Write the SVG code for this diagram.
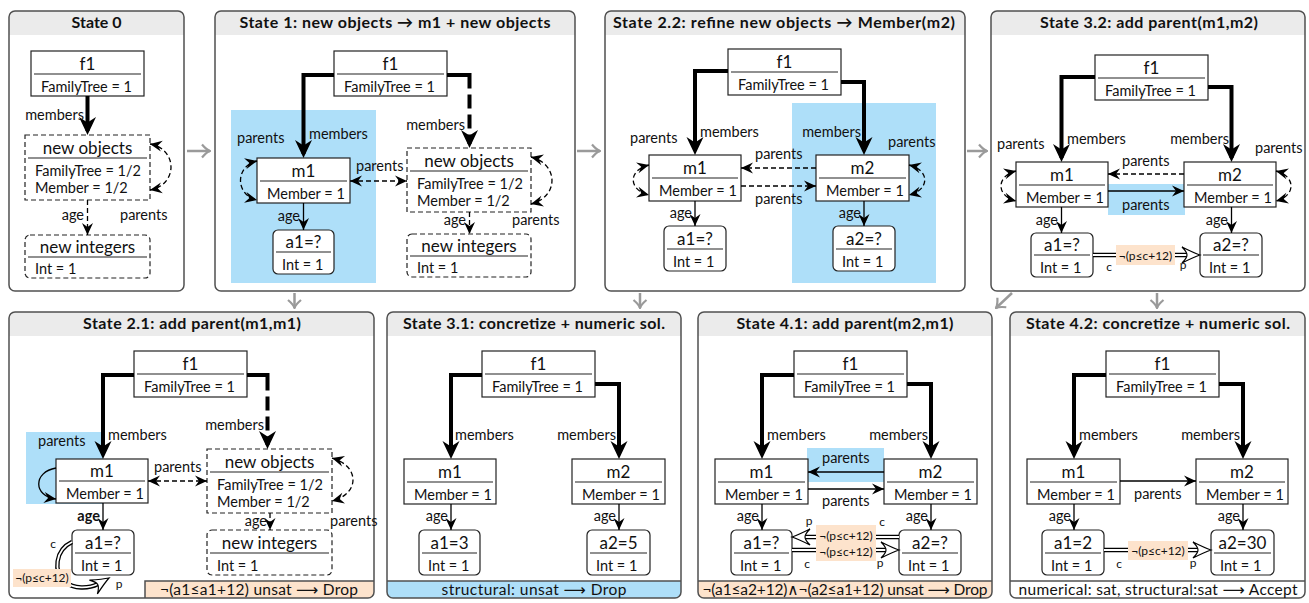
<svg xmlns="http://www.w3.org/2000/svg" xmlns:xlink="http://www.w3.org/1999/xlink" width="1309" height="603" viewBox="0 0 1309 603">
<defs>
<style>
text{font-family:Lato,'DejaVu Sans',sans-serif;fill:#111}
.pbg{fill:#fff}
.pbd{fill:none;stroke:#505050;stroke-width:1.5}
.tbar{fill:#ebebeb}
.title{font-weight:bold;font-size:16px;text-anchor:middle}
.nd{fill:#fff;stroke:#222;stroke-width:1.2}
.dn{fill:#fff;stroke:#222;stroke-width:1.2;stroke-dasharray:5 3}
.sep{stroke:#222;stroke-width:1.2}
.nm{font-size:17px;text-anchor:middle}
.at{font-size:14.5px}
.lb{font-size:14.5px}
.sm{font-size:12px;text-anchor:middle}
.end{text-anchor:end}
.thk{fill:none;stroke:#000;stroke-width:4;marker-end:url(#bh)}
.thkd{stroke-dasharray:36 6 14 6 14 6 14 6}
.ln{fill:none;stroke:#000;stroke-width:1.3}
.arr{marker-end:url(#ah)}
.arr2{marker-start:url(#ah);marker-end:url(#ah)}
.dsh{stroke-dasharray:5 3}
.dl1{fill:none;stroke:#000;stroke-width:4.4}
.dl2{fill:none;stroke:#fff;stroke-width:1.8}
.blue{fill:#aedff9}
.org{fill:#fde3cc}
.garr{fill:none;stroke:#9a9a9a;stroke-width:2.5;marker-end:url(#gh)}
.bar{font-size:15.5px;text-anchor:middle}
.barln{fill:none;stroke:#505050;stroke-width:1.5}
</style>
<marker id="bh" viewBox="-19 -9 20 18" refX="-4" refY="0" markerWidth="20" markerHeight="18" markerUnits="userSpaceOnUse" orient="auto"><path d="M0,0 L-18,-8.5 L-12.5,0 L-18,8.5 Z" fill="#000"/></marker>
<marker id="ah" viewBox="-13 -6 14 12" refX="0" refY="0" markerWidth="14" markerHeight="12" markerUnits="userSpaceOnUse" orient="auto-start-reverse"><path d="M0,0 L-12,-5.5 L-8,0 L-12,5.5 Z" fill="#000"/></marker>
<marker id="gh" viewBox="-10 -8 11 16" refX="0" refY="0" markerWidth="11" markerHeight="16" markerUnits="userSpaceOnUse" orient="auto"><path d="M-8,-6.5 Q-3.5,-1.2 0,0 Q-3.5,1.2 -8,6.5" fill="none" stroke="#9a9a9a" stroke-width="2.2"/></marker>
<path id="dh" d="M0,0 C-6,-2 -12,-5 -18,-8 C-14,-4 -13,-2 -13,0 C-13,2 -14,4 -18,8 C-12,5 -6,2 0,0 Z" fill="#fff" stroke="#000" stroke-width="1.2"/>
</defs>

<!-- ================= State 0 ================= -->
<g id="state0">
<rect class="pbg" x="9" y="11" width="175" height="280" rx="6"/>
<path class="tbar" d="M9,35 V17 Q9,11 15,11 H178 Q184,11 184,17 V35 Z"/>
<rect class="pbd" x="9" y="11" width="175" height="280" rx="6"/>
<text class="title" x="96.5" y="28" textLength="50" lengthAdjust="spacing">State 0</text>
<g id="s0-f1"><rect class="nd" x="31" y="51" width="113" height="45"/><line class="sep" x1="34" y1="74" x2="141" y2="74"/><text class="nm" x="87.5" y="70">f1</text><text class="at" x="41" y="92">FamilyTree = 1</text></g>
<g id="s0-newobjects"><rect class="dn" x="25" y="135" width="125" height="65"/><line class="sep" x1="28" y1="158" x2="147" y2="158"/><text class="nm" x="87.5" y="154">new objects</text><text class="at" x="35" y="176">FamilyTree = 1/2</text><text class="at" x="35" y="193">Member = 1/2</text></g>
<g id="s0-newintegers"><rect class="dn" x="25" y="235" width="125" height="43" rx="5"/><line class="sep" x1="28" y1="257" x2="147" y2="257"/><text class="nm" x="87.5" y="253">new integers</text><text class="at" x="35" y="274">Int = 1</text></g>
<g id="s0-connectors">
<path class="thk" d="M87.5,96 V131"/>
<path class="ln dsh arr" d="M87.5,200 V235"/>
<path class="ln dsh arr2" d="M150,144 C178,149 178,185 150,190"/>
<text class="lb end" x="84" y="120">members</text>
<text class="lb end" x="84" y="220">age</text>
<text class="lb" x="120" y="220">parents</text>
</g>
</g>

<!-- ================= State 1 ================= -->
<g id="state1">
<rect class="pbg" x="215" y="11" width="360" height="280" rx="6"/>
<path class="tbar" d="M215,35 V17 Q215,11 221,11 H569 Q575,11 575,17 V35 Z"/>
<rect class="pbd" x="215" y="11" width="360" height="280" rx="6"/>
<text class="title" x="395" y="28" textLength="311" lengthAdjust="spacing">State 1: new objects → m1 + new objects</text>
<rect class="blue" x="231" y="110" width="145" height="173"/>
<g id="s1-f1"><rect class="nd" x="334" y="51" width="113" height="45"/><line class="sep" x1="337" y1="74" x2="444" y2="74"/><text class="nm" x="390.5" y="70">f1</text><text class="at" x="344" y="92">FamilyTree = 1</text></g>
<g id="s1-m1"><rect class="nd" x="257" y="158" width="93" height="45"/><line class="sep" x1="260" y1="181" x2="347" y2="181"/><text class="nm" x="303.5" y="177">m1</text><text class="at" x="267" y="199">Member = 1</text></g>
<g id="s1-a1"><rect class="nd" x="273" y="230" width="61" height="44" rx="5"/><line class="sep" x1="276" y1="252" x2="331" y2="252"/><text class="nm" x="303.5" y="248">a1=?</text><text class="at" x="282" y="270">Int = 1</text></g>
<g id="s1-newobjects"><rect class="dn" x="407" y="148" width="124" height="64"/><line class="sep" x1="410" y1="171" x2="528" y2="171"/><text class="nm" x="469" y="167">new objects</text><text class="at" x="417" y="189">FamilyTree = 1/2</text><text class="at" x="417" y="206">Member = 1/2</text></g>
<g id="s1-newintegers"><rect class="dn" x="407" y="234" width="124" height="43" rx="5"/><line class="sep" x1="410" y1="256" x2="528" y2="256"/><text class="nm" x="469" y="252">new integers</text><text class="at" x="417" y="273">Int = 1</text></g>
<g id="s1-connectors">
<path class="thk" d="M334,75 H303.5 V154"/>
<path class="thk thkd" d="M447,75 H469.5 V144"/>
<path class="ln dsh arr2" d="M257,161 C235,166 235,195 257,200"/>
<path class="ln dsh arr2" d="M350,181 H407"/>
<path class="ln dsh arr2" d="M531,157 C559,164 559,197 531,204"/>
<path class="ln arr" d="M303.5,203 V230"/>
<path class="ln dsh arr" d="M469.5,212 V234"/>
<text class="lb" x="309" y="139">members</text>
<text class="lb end" x="465" y="130">members</text>
<text class="lb" x="237" y="143">parents</text>
<text class="lb" x="356" y="171">parents</text>
<text class="lb" x="512" y="225">parents</text>
<text class="lb end" x="300" y="221">age</text>
<text class="lb end" x="466" y="225">age</text>
</g>
</g>

<!-- ================= State 2.2 ================= -->
<g id="state22">
<rect class="pbg" x="605" y="11" width="360" height="280" rx="6"/>
<path class="tbar" d="M605,35 V17 Q605,11 611,11 H959 Q965,11 965,17 V35 Z"/>
<rect class="pbd" x="605" y="11" width="360" height="280" rx="6"/>
<text class="title" x="784" y="28" textLength="342" lengthAdjust="spacing">State 2.2: refine new objects → Member(m2)</text>
<rect class="blue" x="792" y="103" width="144" height="180"/>
<g id="s22-f1"><rect class="nd" x="728" y="49" width="113" height="46"/><line class="sep" x1="731" y1="72" x2="838" y2="72"/><text class="nm" x="784.5" y="68">f1</text><text class="at" x="738" y="90">FamilyTree = 1</text></g>
<g id="s22-m1"><rect class="nd" x="649" y="155" width="92" height="46"/><line class="sep" x1="652" y1="178" x2="738" y2="178"/><text class="nm" x="695" y="174">m1</text><text class="at" x="659" y="196">Member = 1</text></g>
<g id="s22-m2"><rect class="nd" x="816" y="155" width="93" height="46"/><line class="sep" x1="819" y1="178" x2="906" y2="178"/><text class="nm" x="862.5" y="174">m2</text><text class="at" x="826" y="196">Member = 1</text></g>
<g id="s22-a1"><rect class="nd" x="664" y="226" width="62" height="45" rx="5"/><line class="sep" x1="667" y1="249" x2="723" y2="249"/><text class="nm" x="695" y="245">a1=?</text><text class="at" x="673" y="267">Int = 1</text></g>
<g id="s22-a2"><rect class="nd" x="833" y="226" width="62" height="45" rx="5"/><line class="sep" x1="836" y1="249" x2="892" y2="249"/><text class="nm" x="864" y="245">a2=?</text><text class="at" x="842" y="267">Int = 1</text></g>
<g id="s22-connectors">
<path class="thk" d="M728,71 H695 V151"/>
<path class="thk" d="M841,82 H864 V151"/>
<path class="ln dsh arr" d="M816,168 H741"/>
<path class="ln dsh arr" d="M741,186 H816"/>
<path class="ln dsh arr2" d="M649,165 C628,170 628,190 649,195"/>
<path class="ln dsh arr2" d="M909,165 C930,170 930,190 909,195"/>
<path class="ln arr" d="M695,201 V226"/>
<path class="ln arr" d="M864,201 V226"/>
<text class="lb" x="700" y="137">members</text>
<text class="lb end" x="861" y="137">members</text>
<text class="lb" x="755" y="159">parents</text>
<text class="lb" x="755" y="204">parents</text>
<text class="lb" x="630" y="143">parents</text>
<text class="lb" x="888" y="147">parents</text>
<text class="lb end" x="692" y="218">age</text>
<text class="lb end" x="861" y="218">age</text>
</g>
</g>

<!-- ================= State 3.2 ================= -->
<g id="state32">
<rect class="pbg" x="991" y="11" width="314" height="280" rx="6"/>
<path class="tbar" d="M991,35 V17 Q991,11 997,11 H1299 Q1305,11 1305,17 V35 Z"/>
<rect class="pbd" x="991" y="11" width="314" height="280" rx="6"/>
<text class="title" x="1149" y="28" textLength="218" lengthAdjust="spacing">State 3.2: add parent(m1,m2)</text>
<rect class="blue" x="1108" y="184" width="77" height="31"/>
<g id="s32-f1"><rect class="nd" x="1095" y="55" width="113" height="45"/><line class="sep" x1="1098" y1="78" x2="1205" y2="78"/><text class="nm" x="1151.5" y="74">f1</text><text class="at" x="1105" y="96">FamilyTree = 1</text></g>
<g id="s32-m1"><rect class="nd" x="1016" y="162" width="92" height="45"/><line class="sep" x1="1019" y1="185" x2="1105" y2="185"/><text class="nm" x="1062" y="181">m1</text><text class="at" x="1026" y="203">Member = 1</text></g>
<g id="s32-m2"><rect class="nd" x="1184" y="162" width="92" height="45"/><line class="sep" x1="1187" y1="185" x2="1273" y2="185"/><text class="nm" x="1230" y="181">m2</text><text class="at" x="1194" y="203">Member = 1</text></g>
<g id="s32-a1"><rect class="nd" x="1031" y="233" width="62" height="44" rx="5"/><line class="sep" x1="1034" y1="255" x2="1090" y2="255"/><text class="nm" x="1062" y="251">a1=?</text><text class="at" x="1040" y="273">Int = 1</text></g>
<g id="s32-a2"><rect class="nd" x="1200" y="233" width="62" height="44" rx="5"/><line class="sep" x1="1203" y1="255" x2="1259" y2="255"/><text class="nm" x="1231" y="251">a2=?</text><text class="at" x="1209" y="273">Int = 1</text></g>
<g id="s32-connectors">
<path class="thk" d="M1095,77 H1061.5 V158"/>
<path class="thk" d="M1208,87 H1231.5 V158"/>
<path class="ln dsh arr" d="M1184,174 H1108"/>
<path class="ln arr" d="M1108,191 H1184"/>
<path class="ln dsh arr2" d="M1016,171 C996,176 996,196 1016,201"/>
<path class="ln dsh arr2" d="M1276,171 C1296,176 1296,196 1276,201"/>
<path class="ln arr" d="M1061.5,207 V233"/>
<path class="ln arr" d="M1231.5,207 V233"/>
<path class="dl1" d="M1093,255 H1188"/><path class="dl2" d="M1093,255 H1189"/>
<use xlink:href="#dh" transform="translate(1200,255)"/>
<rect class="org" x="1116" y="245" width="59" height="20"/>
<text class="sm" x="1145.5" y="259.5">¬(p≤c+12)</text>
<text class="sm" x="1109" y="271">c</text>
<text class="sm" x="1183" y="269">p</text>
<text class="lb" x="1067" y="144">members</text>
<text class="lb end" x="1229" y="144">members</text>
<text class="lb" x="1122" y="166">parents</text>
<text class="lb" x="1122" y="210">parents</text>
<text class="lb" x="997" y="149">parents</text>
<text class="lb" x="1255" y="153">parents</text>
<text class="lb end" x="1058" y="225">age</text>
<text class="lb end" x="1228" y="225">age</text>
</g>
</g>

<!-- ================= State 2.1 ================= -->
<g id="state21">
<rect class="pbg" x="9" y="312" width="365" height="286" rx="6"/>
<path class="tbar" d="M9,336 V318 Q9,312 15,312 H368 Q374,312 374,318 V336 Z"/>
<path class="org" d="M145,581 H374 V592 Q374,598 368,598 H145 Z"/>
<path class="barln" d="M145,598 V581 H374"/>
<rect class="pbd" x="9" y="312" width="365" height="286" rx="6"/>
<text class="title" x="192" y="329" textLength="218" lengthAdjust="spacing">State 2.1: add parent(m1,m1)</text>
<text class="bar" x="259" y="595" textLength="198" lengthAdjust="spacing">¬(a1≤a1+12) unsat ⟶ Drop</text>
<rect class="blue" x="26" y="432" width="77" height="72"/>
<g id="s21-f1"><rect class="nd" x="134" y="351" width="113" height="46"/><line class="sep" x1="137" y1="374" x2="244" y2="374"/><text class="nm" x="190.5" y="370">f1</text><text class="at" x="144" y="392">FamilyTree = 1</text></g>
<g id="s21-m1"><rect class="nd" x="56" y="459" width="92" height="44"/><line class="sep" x1="59" y1="481" x2="145" y2="481"/><text class="nm" x="102" y="477">m1</text><text class="at" x="66" y="499">Member = 1</text></g>
<g id="s21-a1"><rect class="nd" x="72" y="530" width="62" height="45" rx="5"/><line class="sep" x1="75" y1="553" x2="131" y2="553"/><text class="nm" x="103" y="549">a1=?</text><text class="at" x="81" y="571">Int = 1</text></g>
<g id="s21-newobjects"><rect class="dn" x="207" y="449" width="125" height="64"/><line class="sep" x1="210" y1="472" x2="329" y2="472"/><text class="nm" x="269.5" y="468">new objects</text><text class="at" x="217" y="490">FamilyTree = 1/2</text><text class="at" x="217" y="507">Member = 1/2</text></g>
<g id="s21-newintegers"><rect class="dn" x="207" y="530" width="125" height="45" rx="5"/><line class="sep" x1="210" y1="553" x2="329" y2="553"/><text class="nm" x="269.5" y="549">new integers</text><text class="at" x="217" y="571">Int = 1</text></g>
<g id="s21-connectors">
<path class="thk" d="M134,375 H103 V455"/>
<path class="thk thkd" d="M247,375 H267.5 V445"/>
<path class="ln arr" d="M56,468 C33,472 33,496 56,499"/>
<path class="ln dsh arr2" d="M148,481 H207"/>
<path class="ln dsh arr2" d="M332,458 C360,466 360,494 332,501"/>
<path class="ln arr" d="M103,503 V530"/>
<path class="ln dsh arr" d="M270,513 V530"/>
<path class="dl1" d="M72,542 C55,550 53,572 65,582 C74,589 88,589 98,584"/>
<path class="dl2" d="M72,542 C55,550 53,572 65,582 C74,589 88,589 99,583.5"/>
<use xlink:href="#dh" transform="translate(109,578) rotate(-30)"/>
<rect class="org" x="13" y="569" width="58" height="18"/>
<text class="sm" x="42" y="582">¬(p≤c+12)</text>
<text class="sm" x="53" y="548">c</text>
<text class="sm" x="119" y="588">p</text>
<text class="lb" x="108" y="440">members</text>
<text class="lb end" x="264" y="430">members</text>
<text class="lb" x="38" y="446">parents</text>
<text class="lb" x="154" y="472">parents</text>
<text class="lb" x="330" y="526">parents</text>
<text class="lb end" x="100" y="521" font-weight="bold">age</text>
<text class="lb end" x="267" y="526">age</text>
</g>
</g>

<!-- ================= State 3.1 ================= -->
<g id="state31">
<rect class="pbg" x="387" y="312" width="294" height="286" rx="6"/>
<path class="tbar" d="M387,336 V318 Q387,312 393,312 H675 Q681,312 681,318 V336 Z"/>
<path class="blue" d="M387,581 H681 V592 Q681,598 675,598 H393 Q387,598 387,592 Z"/>
<path class="barln" d="M387,581 H681"/>
<rect class="pbd" x="387" y="312" width="294" height="286" rx="6"/>
<text class="title" x="534" y="329" textLength="262" lengthAdjust="spacing">State 3.1: concretize + numeric sol.</text>
<text class="bar" x="534" y="595" textLength="185" lengthAdjust="spacing">structural: unsat ⟶ Drop</text>
<g id="s31-f1"><rect class="nd" x="482" y="351" width="113" height="46"/><line class="sep" x1="485" y1="374" x2="592" y2="374"/><text class="nm" x="538.5" y="370">f1</text><text class="at" x="492" y="392">FamilyTree = 1</text></g>
<g id="s31-m1"><rect class="nd" x="404" y="459" width="92" height="45"/><line class="sep" x1="407" y1="482" x2="493" y2="482"/><text class="nm" x="450" y="478">m1</text><text class="at" x="414" y="500">Member = 1</text></g>
<g id="s31-m2"><rect class="nd" x="572" y="459" width="93" height="45"/><line class="sep" x1="575" y1="482" x2="662" y2="482"/><text class="nm" x="618.5" y="478">m2</text><text class="at" x="582" y="500">Member = 1</text></g>
<g id="s31-a1"><rect class="nd" x="419" y="530" width="61" height="45" rx="5"/><line class="sep" x1="422" y1="553" x2="477" y2="553"/><text class="nm" x="449.5" y="549">a1=3</text><text class="at" x="428" y="571">Int = 1</text></g>
<g id="s31-a2"><rect class="nd" x="587" y="530" width="63" height="45" rx="5"/><line class="sep" x1="590" y1="553" x2="647" y2="553"/><text class="nm" x="618.5" y="549">a2=5</text><text class="at" x="596" y="571">Int = 1</text></g>
<g id="s31-connectors">
<path class="thk" d="M482,375 H451 V455"/>
<path class="thk" d="M595,384 H619 V455"/>
<path class="ln arr" d="M451,504 V530"/>
<path class="ln arr" d="M619,504 V530"/>
<text class="lb" x="455" y="440">members</text>
<text class="lb end" x="616" y="440">members</text>
<text class="lb end" x="448" y="521">age</text>
<text class="lb end" x="616" y="521">age</text>
</g>
</g>

<!-- ================= State 4.1 ================= -->
<g id="state41">
<rect class="pbg" x="698" y="312" width="294" height="286" rx="6"/>
<path class="tbar" d="M698,336 V318 Q698,312 704,312 H986 Q992,312 992,318 V336 Z"/>
<path class="org" d="M698,581 H992 V592 Q992,598 986,598 H704 Q698,598 698,592 Z"/>
<path class="barln" d="M698,581 H992"/>
<rect class="pbd" x="698" y="312" width="294" height="286" rx="6"/>
<text class="title" x="845" y="329" textLength="217" lengthAdjust="spacing">State 4.1: add parent(m2,m1)</text>
<text class="bar" x="845" y="595" textLength="285" lengthAdjust="spacing">¬(a1≤a2+12)∧¬(a2≤a1+12) unsat ⟶ Drop</text>
<rect class="blue" x="807" y="448" width="77" height="34"/>
<g id="s41-f1"><rect class="nd" x="794" y="351" width="113" height="46"/><line class="sep" x1="797" y1="374" x2="904" y2="374"/><text class="nm" x="850.5" y="370">f1</text><text class="at" x="804" y="392">FamilyTree = 1</text></g>
<g id="s41-m1"><rect class="nd" x="715" y="459" width="93" height="45"/><line class="sep" x1="718" y1="482" x2="805" y2="482"/><text class="nm" x="761.5" y="478">m1</text><text class="at" x="725" y="500">Member = 1</text></g>
<g id="s41-m2"><rect class="nd" x="884" y="459" width="93" height="45"/><line class="sep" x1="887" y1="482" x2="974" y2="482"/><text class="nm" x="930.5" y="478">m2</text><text class="at" x="894" y="500">Member = 1</text></g>
<g id="s41-a1"><rect class="nd" x="731" y="530" width="61" height="45" rx="5"/><line class="sep" x1="734" y1="553" x2="789" y2="553"/><text class="nm" x="761.5" y="549">a1=?</text><text class="at" x="740" y="571">Int = 1</text></g>
<g id="s41-a2"><rect class="nd" x="899" y="530" width="62" height="45" rx="5"/><line class="sep" x1="902" y1="553" x2="958" y2="553"/><text class="nm" x="930" y="549">a2=?</text><text class="at" x="908" y="571">Int = 1</text></g>
<g id="s41-connectors">
<path class="thk" d="M794,375 H762 V455"/>
<path class="thk" d="M907,384 H931 V455"/>
<path class="ln arr" d="M884,472 H808"/>
<path class="ln arr" d="M808,489 H884"/>
<path class="ln arr" d="M762,504 V530"/>
<path class="ln arr" d="M931,504 V530"/>
<path class="dl1" d="M899,537 H805"/><path class="dl2" d="M899,537 H804"/>
<use xlink:href="#dh" transform="translate(792,537) rotate(180)"/>
<path class="dl1" d="M792,550 H886"/><path class="dl2" d="M792,550 H887"/>
<use xlink:href="#dh" transform="translate(899,550)"/>
<rect class="org" x="816" y="525" width="60" height="36"/>
<text class="sm" x="846" y="540">¬(p≤c+12)</text>
<text class="sm" x="846" y="556">¬(p≤c+12)</text>
<text class="sm" x="809" y="525">p</text>
<text class="sm" x="882" y="526">c</text>
<text class="sm" x="807" y="568">c</text>
<text class="sm" x="880" y="567">p</text>
<text class="lb" x="767" y="440">members</text>
<text class="lb end" x="928" y="440">members</text>
<text class="lb" x="822" y="463">parents</text>
<text class="lb" x="822" y="506">parents</text>
<text class="lb end" x="759" y="521">age</text>
<text class="lb end" x="928" y="521">age</text>
</g>
</g>

<!-- ================= State 4.2 ================= -->
<g id="state42">
<rect class="pbg" x="1010" y="312" width="295" height="286" rx="6"/>
<path class="tbar" d="M1010,336 V318 Q1010,312 1016,312 H1299 Q1305,312 1305,318 V336 Z"/>
<path class="barln" d="M1010,581 H1305"/>
<rect class="pbd" x="1010" y="312" width="295" height="286" rx="6"/>
<text class="title" x="1158" y="329" textLength="264" lengthAdjust="spacing">State 4.2: concretize + numeric sol.</text>
<text class="bar" x="1158" y="595" textLength="279" lengthAdjust="spacing">numerical: sat, structural:sat ⟶ Accept</text>
<g id="s42-f1"><rect class="nd" x="1106" y="351" width="113" height="46"/><line class="sep" x1="1109" y1="374" x2="1216" y2="374"/><text class="nm" x="1162.5" y="370">f1</text><text class="at" x="1116" y="392">FamilyTree = 1</text></g>
<g id="s42-m1"><rect class="nd" x="1027" y="459" width="93" height="45"/><line class="sep" x1="1030" y1="482" x2="1117" y2="482"/><text class="nm" x="1073.5" y="478">m1</text><text class="at" x="1037" y="500">Member = 1</text></g>
<g id="s42-m2"><rect class="nd" x="1196" y="459" width="92" height="45"/><line class="sep" x1="1199" y1="482" x2="1285" y2="482"/><text class="nm" x="1242" y="478">m2</text><text class="at" x="1206" y="500">Member = 1</text></g>
<g id="s42-a1"><rect class="nd" x="1042" y="530" width="62" height="45" rx="5"/><line class="sep" x1="1045" y1="553" x2="1101" y2="553"/><text class="nm" x="1073" y="549">a1=2</text><text class="at" x="1051" y="571">Int = 1</text></g>
<g id="s42-a2"><rect class="nd" x="1211" y="530" width="63" height="45" rx="5"/><line class="sep" x1="1214" y1="553" x2="1271" y2="553"/><text class="nm" x="1242.5" y="549">a2=30</text><text class="at" x="1220" y="571">Int = 1</text></g>
<g id="s42-connectors">
<path class="thk" d="M1106,375 H1074 V455"/>
<path class="thk" d="M1219,384 H1243 V455"/>
<path class="ln arr" d="M1120,481 H1196"/>
<path class="ln arr" d="M1074,504 V530"/>
<path class="ln arr" d="M1243,504 V530"/>
<path class="dl1" d="M1104,550 H1198"/><path class="dl2" d="M1104,550 H1199"/>
<use xlink:href="#dh" transform="translate(1211,550)"/>
<rect class="org" x="1128" y="541" width="60" height="19"/>
<text class="sm" x="1158" y="555">¬(p≤c+12)</text>
<text class="sm" x="1119" y="568">c</text>
<text class="sm" x="1193" y="567">p</text>
<text class="lb" x="1079" y="440">members</text>
<text class="lb end" x="1240" y="440">members</text>
<text class="lb" x="1134" y="499">parents</text>
<text class="lb end" x="1071" y="521">age</text>
<text class="lb end" x="1240" y="521">age</text>
</g>
</g>

<!-- ================= transitions between states ================= -->
<g id="transitions">
<path class="garr" d="M187,151 H210"/>
<path class="garr" d="M577,151 H600"/>
<path class="garr" d="M967,151 H987"/>
<path class="garr" d="M294.5,293 V308"/>
<path class="garr" d="M640,293 V308"/>
<path class="garr" d="M1012,293 L996,308"/>
<path class="garr" d="M1157,293 V308"/>
</g>
</svg>
